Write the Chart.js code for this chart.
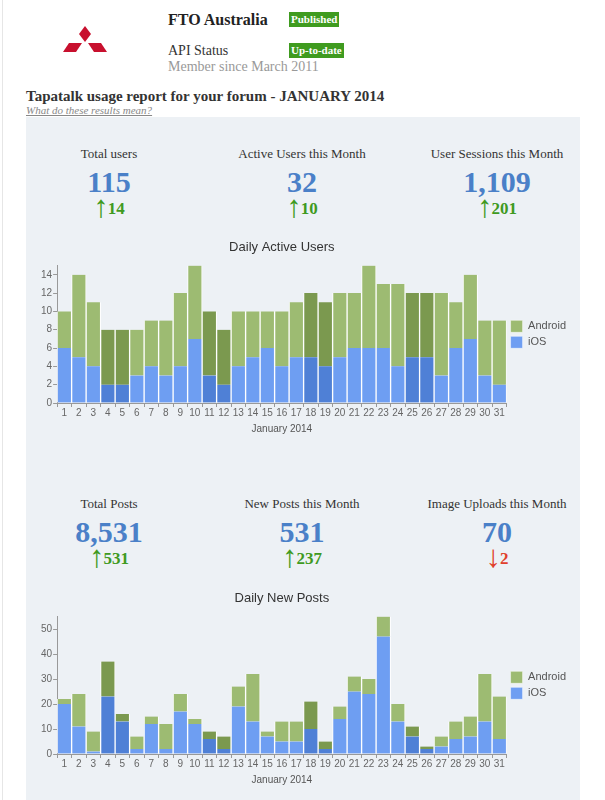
<!DOCTYPE html>
<html>
<head>
<meta charset="utf-8">
<script src="https://cdn.jsdelivr.net/npm/chart.js@4"></script>
<style>
  body { margin: 0; background: #fff; width: 605px; height: 800px; position: relative; overflow: hidden;
         font-family: "Liberation Serif", "Times New Roman", serif; }
  .abs { position: absolute; white-space: nowrap; }
  .edge { position: absolute; left: 2px; top: 0; width: 1px; height: 800px; background: #e6e6e6; }
  .badge { position: absolute; background: #3f9b1f; color: #fff; font-weight: bold; font-size: 11px;
           padding: 1px 2px; line-height: 13px; }
  .panel { position: absolute; left: 26px; top: 117px; width: 554px; height: 690px; background: #edf1f5; }
  .stat { position: absolute; width: 190px; margin-left: -95px; text-align: center; }
  .stat .lbl { font-size: 13px; color: #333; line-height: 16px; }
  .stat .num { font-size: 30px; font-weight: bold; color: #4a80c8; line-height: 30px; margin-top: 5px; }
  .stat .chg { font-size: 17px; font-weight: bold; line-height: 22px; margin-top: 1px; }
  .stat .chg span { font-weight: normal; font-size: 31px; line-height: 0; font-family: "Liberation Sans", Arial, sans-serif;
                    vertical-align: -3px; margin-right: -1px; }
  .up { color: #3f9a1f; }
  .down { color: #e0402c; }
  canvas { position: absolute; }
</style>
</head>
<body>
<div class="edge"></div>

<svg class="abs" style="left:60px;top:26px" width="54" height="32" viewBox="0 0 54 32">
  <polygon points="25,0 31,8 25,16 19,8" fill="#c8102e"/>
  <polygon points="18,17 31,17 25,26 12,26" fill="#c8102e" transform="translate(-9,0)"/>
  <polygon points="19,17 32,17 38,26 25,26" fill="#c8102e" transform="translate(9,0)"/>
</svg>

<div class="abs" style="left:168px;top:11px;font-size:16px;font-weight:bold;color:#222">FTO Australia</div>
<div class="badge" style="left:289px;top:12px">Published</div>
<div class="abs" style="left:168px;top:43px;font-size:14px;color:#333">API Status</div>
<div class="badge" style="left:289px;top:43px">Up-to-date</div>
<div class="abs" style="left:168px;top:59px;font-size:14px;color:#999">Member since March 2011</div>
<div class="abs" style="left:26px;top:88px;font-size:15px;font-weight:bold;color:#333">Tapatalk usage report for your forum - JANUARY 2014</div>
<div class="abs" style="left:26px;top:104px;font-size:11px;font-style:italic;color:#888;text-decoration:underline">What do these results mean?</div>

<div class="panel"></div>

<div id="stats"></div>

<canvas id="usersChart" width="554" height="208" style="left:26px;top:234px"></canvas>
<canvas id="postsChart" width="554" height="208" style="left:26px;top:585px"></canvas>

<script>
// --- data ---
const days = ['1','2','3','4','5','6','7','8','9','10','11','12','13','14','15','16',
              '17','18','19','20','21','22','23','24','25','26','27','28','29','30','31'];
const weekendDays = [4, 5, 11, 12, 18, 19, 25, 26];

const usersIOS     = [6,5,4,2,2,3,4,3,4,7,3,2,4,5,6,4,5,5,4,5,6,6,6,4,5,5,3,6,7,3,2];
const usersAndroid = [4,9,7,6,6,5,5,6,8,8,7,6,6,5,4,6,6,7,7,7,6,9,7,9,7,7,9,5,7,6,7];

const postsIOS     = [20,11,1,23,13,2,12,2,17,12,6,2,19,13,7,5,5,10,2,14,25,24,47,13,7,2,3,6,7,13,6];
const postsAndroid = [2,13,8,14,3,5,3,10,7,2,3,5,8,19,2,8,8,11,3,5,6,6,8,7,4,1,4,7,8,19,17];

const statLabels  = ['Total users', 'Active Users this Month', 'User Sessions this Month',
                     'Total Posts', 'New Posts this Month', 'Image Uploads this Month'];
const statValues  = ['115', '32', '1,109', '8,531', '531', '70'];
const statChanges = [14, 10, 201, 531, 237, -2];

// --- stat boxes ---
const centersX = [109, 302, 497];
const rowsY = [146, 496];
const statsEl = document.getElementById('stats');
statLabels.forEach((lbl, i) => {
  const d = document.createElement('div');
  d.className = 'stat';
  d.style.left = centersX[i % 3] + 'px';
  d.style.top = rowsY[Math.floor(i / 3)] + 'px';
  const ch = statChanges[i];
  const cls = ch < 0 ? 'down' : 'up';
  d.innerHTML = `
    <div class="lbl">${lbl}</div>
    <div class="num">${statValues[i]}</div>
    <div class="chg ${cls}"><span>${ch < 0 ? '\u2193' : '\u2191'}</span>${Math.abs(ch)}</div>
  `;
  statsEl.appendChild(d);
});

// --- charts ---
const colors = {
  android: '#9dbb72', androidWeekend: '#7b994f',
  ios: '#6e9ef2', iosWeekend: '#4f80d6'
};
const isWeekend = i => weekendDays.includes(i + 1);

function makeChart(id, title, ios, android, max, step) {
  const ctx = document.getElementById(id).getContext('2d');
  return new Chart(ctx, {
    type: 'bar',
    data: {
      labels: days,
      datasets: [
        {
          label: 'iOS',
          data: ios,
          backgroundColor: c => (c.dataIndex !== undefined && isWeekend(c.dataIndex)) ? colors.iosWeekend : colors.ios,
          borderColor: '#ffffff',
          borderWidth: { left: 1, right: 1, top: 0, bottom: 0 },
          borderSkipped: false
        },
        {
          label: 'Android',
          data: android,
          backgroundColor: c => (c.dataIndex !== undefined && isWeekend(c.dataIndex)) ? colors.androidWeekend : colors.android,
          borderColor: '#ffffff',
          borderWidth: { left: 1, right: 1, top: 0, bottom: 0 },
          borderSkipped: false
        }
      ]
    },
    options: {
      responsive: false,
      animation: false,
      layout: { padding: { left: 14, right: 4, bottom: 3 } },
      datasets: { bar: { barPercentage: 1, categoryPercentage: 1 } },
      plugins: {
        title: {
          display: true, text: title, color: '#333', fullSize: false,
          font: { family: 'Liberation Sans, Arial, sans-serif', size: 13, weight: 'normal' },
          padding: { top: 6, bottom: 10 }
        },
        legend: {
          position: 'right', reverse: true, fullSize: false,
          labels: {
            boxWidth: 12, boxHeight: 12, padding: 4, color: '#555',
            font: { family: 'Liberation Sans, Arial, sans-serif', size: 11 }
          }
        },
        tooltip: { enabled: false }
      },
      scales: {
        x: {
          stacked: true,
          grid: { drawOnChartArea: false, tickLength: 4, color: '#999' },
          border: { color: '#999' },
          ticks: { color: '#666', padding: 0, maxRotation: 0, autoSkip: false,
                   font: { family: 'Liberation Sans, Arial, sans-serif', size: 10 } },
          title: { display: true, text: 'January 2014', color: '#555', padding: { top: 4 },
                   font: { family: 'Liberation Sans, Arial, sans-serif', size: 10 } }
        },
        y: {
          stacked: true, min: 0, max: max,
          grid: { drawOnChartArea: false, tickLength: 4, color: '#999' },
          border: { color: '#999' },
          ticks: { stepSize: step, includeBounds: false, color: '#666', padding: 1,
                   font: { family: 'Liberation Sans, Arial, sans-serif', size: 10 } }
        }
      }
    }
  });
}

makeChart('usersChart', 'Daily Active Users', usersIOS, usersAndroid, 15, 2);
makeChart('postsChart', 'Daily New Posts', postsIOS, postsAndroid, 55, 10);
</script>
</body>
</html>
